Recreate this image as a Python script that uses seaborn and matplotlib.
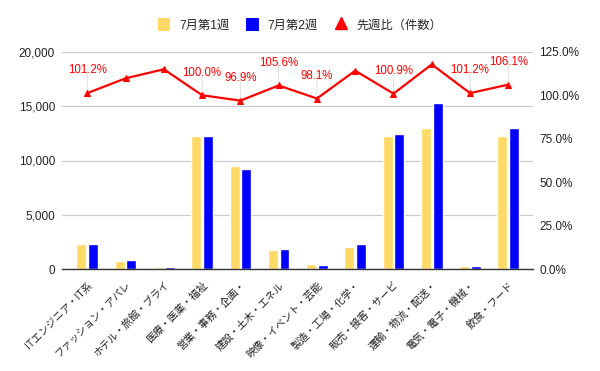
import matplotlib
matplotlib.use("Agg")
import matplotlib.pyplot as plt
import seaborn as sns
import pandas as pd
import numpy as np
from matplotlib.patches import Patch
from matplotlib.lines import Line2D
from matplotlib.ticker import FuncFormatter

sns.set_style("white")
plt.rcParams['font.family'] = ['Liberation Sans', 'Noto Sans CJK JP', 'DejaVu Sans']

categories = ["ITエンジニア・IT系", "ファッション・アパレ", "ホテル・旅館・ブライ", "医療・医薬・福祉",
              "営業・事務・企画・", "建設・土木・エネル", "映像・イベント・芸能", "製造・工場・化学・",
              "販売・接客・サービ", "運輸・物流・配送・", "電気・電子・機械・", "飲食・フード"]
week1 = [2320, 760, 200, 12250, 9495, 1775, 490, 2050, 12250, 12990, 300, 12250]
week2 = [2330, 855, 220, 12250, 9220, 1870, 395, 2325, 12435, 15257, 300, 12990]
ratio = [101.2, 109.7, 114.9, 100.0, 96.9, 105.6, 98.1, 114.1, 100.9, 117.7, 101.2, 106.1]
labeled = [True, False, False, True, True, True, True, False, True, False, True, True]
series_names = ["7月第1週", "7月第2週", "先週比（件数）"]

c_yellow = "#FFD966"
c_blue = "#0000FF"
c_red = "#FF0000"

df = pd.DataFrame({
    "cat": categories * 2,
    "val": week1 + week2,
    "series": [series_names[0]] * len(categories) + [series_names[1]] * len(categories),
})

W, H = 600, 371
fig = plt.figure(figsize=(6, 3.71), dpi=100)
ax = fig.add_axes([62.3/W, (H-269.3)/H, 471/W, 217.6/H])

sns.barplot(data=df, x="cat", y="val", hue="series", order=categories,
            hue_order=series_names[:2], palette=[c_yellow, c_blue],
            width=0.61, gap=0.145, ax=ax, legend=False, saturation=1)

XL = (-0.653, 11.653)
ax.set_ylim(0, 20000)
ax.set_xlim(*XL)
ax.set_yticks([0, 5000, 10000, 15000, 20000])
ax.yaxis.set_major_formatter(FuncFormatter(lambda v, p: f"{int(v):,}"))
ax.grid(axis='y', color='#cccccc', linewidth=0.9)
ax.set_axisbelow(True)
for s in ['top', 'right', 'left']:
    ax.spines[s].set_visible(False)
ax.spines['bottom'].set_color('#333333')
ax.spines['bottom'].set_linewidth(1.0)
ax.set_xlabel("")
ax.set_ylabel("")
ax.tick_params(axis='y', length=0, labelsize=8.5, colors='#222222', pad=5.3)
ax.tick_params(axis='x', length=0, labelsize=7.4, colors='#222222', pad=7.5)
ax.set_xticks(range(len(categories)))
ax.set_xticklabels(categories, rotation=45, ha='right', rotation_mode='anchor')

ax2 = ax.twinx()
x = np.arange(len(categories))
sns.lineplot(x=x, y=ratio, ax=ax2, color=c_red, linewidth=1.6, marker='^',
             markersize=5, markeredgecolor=c_red, legend=False)
ax2.set_ylim(0, 125)
ax2.set_xlim(*XL)
ax2.set_yticks([0, 25, 50, 75, 100, 125])
ax2.yaxis.set_major_formatter(FuncFormatter(lambda v, p: f"{v:.1f}%"))
for s in ['top', 'right', 'left', 'bottom']:
    ax2.spines[s].set_visible(False)
ax2.tick_params(axis='y', length=0, labelsize=8.5, colors='#222222', pad=4.3)
ax2.set_ylabel("")

for i, (r, show) in enumerate(zip(ratio, labeled)):
    if show:
        ax2.annotate("", xy=(i, r), xytext=(0, 16.5), textcoords='offset points',
                     arrowprops=dict(arrowstyle='-', color='#e0e0e0', lw=0.7,
                                     shrinkA=0, shrinkB=2), zorder=1)
        ax2.annotate(f"{r:.1f}%", (i, r), xytext=(0, 16.3), textcoords='offset points',
                     ha='center', va='center', color=c_red, fontsize=8.3)

handles = [Patch(facecolor=c_yellow, edgecolor='none'),
           Patch(facecolor=c_blue, edgecolor='none'),
           Line2D([], [], color='none', marker='^', markerfacecolor=c_red,
                  markeredgecolor=c_red, markersize=8)]
fig.legend(handles, series_names, loc='center', bbox_to_anchor=(300/W, 1 - 25/H),
           ncol=3, frameon=False, fontsize=8.8, handlelength=1.0, handleheight=1.15,
           columnspacing=1.4, handletextpad=0.75)

fig.savefig("out.png", dpi=100)
